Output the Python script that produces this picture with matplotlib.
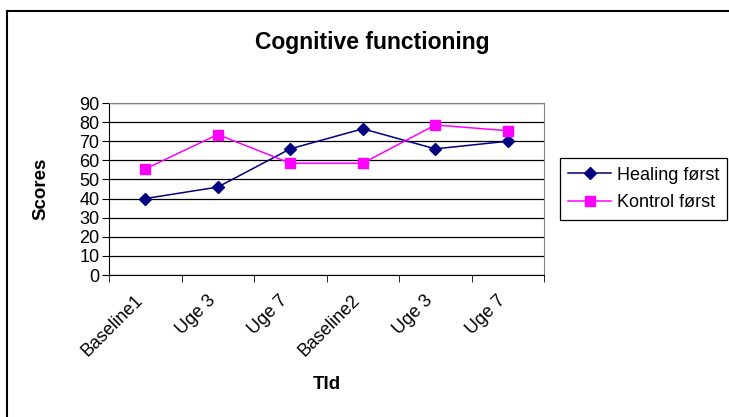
import matplotlib
matplotlib.use("Agg")
import matplotlib.pyplot as plt
from matplotlib.lines import Line2D
from matplotlib.transforms import ScaledTranslation

categories = ["Baseline1", "Uge 3", "Uge 7", "Baseline2", "Uge 3", "Uge 7"]
healing = [40, 46, 66, 76.5, 66, 70]
kontrol = [55.5, 73.5, 58.5, 58.5, 78.5, 75.5]
yticks = list(range(0, 91, 10))

plt.rcParams['font.family'] = ['Liberation Sans', 'DejaVu Sans']

fig = plt.figure(figsize=(7.29, 4.17), dpi=100)
fig.patch.set_facecolor('white')
ax = fig.add_axes([109/729, 1-275/417, (544-109)/729, (275-103)/417])

x = list(range(len(categories)))
ax.plot(x, healing, color='#000080', marker='D', markersize=6, linewidth=1.1,
        label='Healing først')
ax.plot(x, kontrol, color='#FF00FF', marker='s', markersize=6.5, linewidth=1.1,
        label='Kontrol først')

ax.set_xlim(-0.5, len(categories) - 0.5)
ax.set_ylim(0, 90)
ax.set_yticks(yticks)
ax.set_yticklabels([str(v) for v in yticks], fontsize=13)
ax.yaxis.grid(True, color='black', linewidth=0.9)
ax.set_axisbelow(True)

ax.set_xticks(x)
ax.set_xticklabels(categories, rotation=45, ha='right', rotation_mode='anchor', fontsize=13)
ax.tick_params(axis='x', which='major', length=0, pad=12)
offset = ScaledTranslation(-11/100, 0, fig.dpi_scale_trans)
for lbl in ax.get_xticklabels():
    lbl.set_transform(lbl.get_transform() + offset)
ax.set_xticks([i - 0.5 for i in range(len(categories) + 1)], minor=True)
ax.tick_params(axis='x', which='minor', length=5, direction='out', color='black')
ax.tick_params(axis='y', length=5, direction='out', color='black', pad=2)

for side in ['top', 'right']:
    ax.spines[side].set_color('#808080')
ax.spines['left'].set_color('black')
ax.spines['bottom'].set_color('black')

ax.set_ylabel('Scores', fontsize=13.5, fontweight='bold', labelpad=21)
ax.set_xlabel('TId', fontsize=13.5, fontweight='bold', labelpad=12)

fig.text(372/729, 1-42/417, 'Cognitive functioning', ha='center', va='center',
         fontsize=16.5, fontweight='bold')

leg = fig.legend(loc='center left', bbox_to_anchor=(560/729, 1-189/417), fontsize=13,
                 frameon=True, fancybox=False, edgecolor='black', framealpha=1,
                 handlelength=2.4, borderpad=0.45, labelspacing=0.6, handletextpad=0.3,
                 borderaxespad=0)
leg.get_frame().set_linewidth(0.9)

# chart-area border (only top and left edges are visible in the cropped original)
bx, by = 6.5/729, 1 - 10.5/417
fig.add_artist(Line2D([bx, 1.0], [by, by], transform=fig.transFigure, color='black', linewidth=1.5))
fig.add_artist(Line2D([bx, bx], [0.0, by], transform=fig.transFigure, color='black', linewidth=1.5))

fig.savefig('out.png', dpi=100, facecolor='white')
